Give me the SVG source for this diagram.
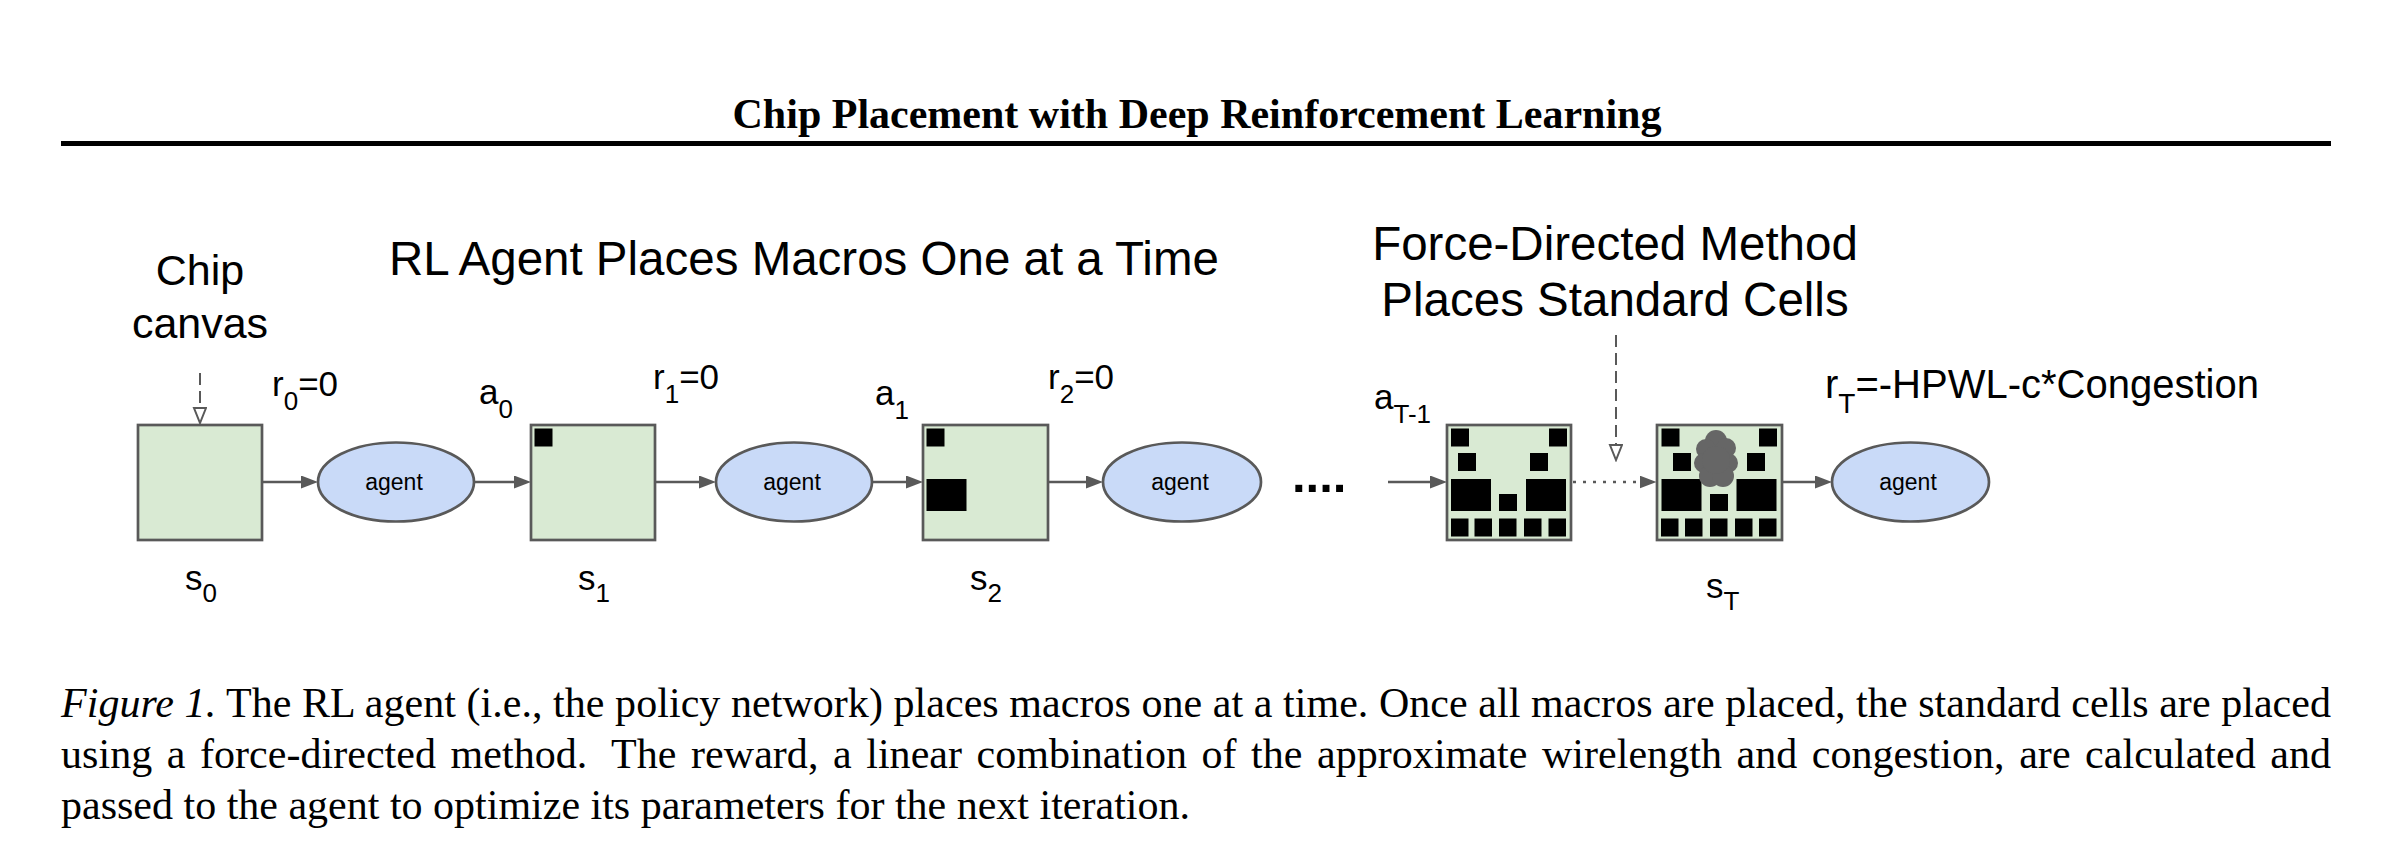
<svg xmlns="http://www.w3.org/2000/svg" width="2384" height="866" viewBox="0 0 2384 866">
<style>
.sans{font-family:"Liberation Sans",Arial,sans-serif;fill:#000}
.serif{font-family:"Liberation Serif","Times New Roman",serif;fill:#000}
.lbl{font-size:35px}
.sub{font-size:26px}
.head{font-size:47.5px}
.box{fill:#d9ead3;stroke:#595959;stroke-width:2.7}
.ell{fill:#c9daf8;stroke:#595959;stroke-width:2.7}
.ag{font-size:23px;text-anchor:middle}
.con{stroke:#595959;stroke-width:2.7;fill:none}
.dash{stroke-dasharray:12 6;stroke-width:2}
.dot{stroke-dasharray:3 7}
.cap{font-size:42px}
</style>
<defs>
<marker id="ah" markerUnits="userSpaceOnUse" markerWidth="18" markerHeight="14" viewBox="0 0 18 14" refX="0" refY="6.5" orient="auto"><path d="M0,0 L17,6.5 L0,13 z" fill="#595959"/></marker>
<marker id="oh" markerUnits="userSpaceOnUse" markerWidth="18" markerHeight="16" viewBox="-1 -1 18 16" refX="0" refY="6" orient="auto"><path d="M0,0 L15,6 L0,12 z" fill="#fff" stroke="#595959" stroke-width="2"/></marker>
</defs>
<rect width="2384" height="866" fill="#fff"/>

<g id="header">
<text class="serif" x="1197" y="128" font-size="42" font-weight="bold" text-anchor="middle">Chip Placement with Deep Reinforcement Learning</text>
<rect x="61" y="141" width="2270" height="5" fill="#000"/>
</g>

<g id="headings">
<text class="sans" x="200" y="285" font-size="43" text-anchor="middle">Chip</text>
<text class="sans" x="200" y="338" font-size="43" text-anchor="middle">canvas</text>
<text class="sans head" x="389" y="275">RL Agent Places Macros One at a Time</text>
<text class="sans head" x="1615" y="260" text-anchor="middle">Force-Directed Method</text>
<text class="sans head" x="1615" y="316" text-anchor="middle">Places Standard Cells</text>
</g>

<g id="connectors">
<line class="con dash" x1="200" y1="373" x2="200" y2="408" marker-end="url(#oh)"/>
<line class="con" x1="262" y1="482" x2="301" y2="482" marker-end="url(#ah)"/>
<line class="con" x1="474" y1="482" x2="514" y2="482" marker-end="url(#ah)"/>
<line class="con" x1="655" y1="482" x2="699" y2="482" marker-end="url(#ah)"/>
<line class="con" x1="872" y1="482" x2="906" y2="482" marker-end="url(#ah)"/>
<line class="con" x1="1048" y1="482" x2="1086" y2="482" marker-end="url(#ah)"/>
<line class="con" x1="1388" y1="482" x2="1430" y2="482" marker-end="url(#ah)"/>
<line class="con dot" x1="1573" y1="482" x2="1639.5" y2="482" marker-end="url(#ah)"/>
<line class="con dash" x1="1616" y1="335" x2="1616" y2="445" marker-end="url(#oh)"/>
<line class="con" x1="1782" y1="482" x2="1815" y2="482" marker-end="url(#ah)"/>
</g>

<g id="s0">
<rect class="box" x="138" y="425" width="124" height="115"/>
<text class="sans lbl" x="185" y="590">s<tspan class="sub" dy="12">0</tspan></text>
</g>

<g id="agent1">
<ellipse class="ell" cx="396" cy="482" rx="78" ry="39.5"/>
<text class="sans ag" x="394" y="490">agent</text>
</g>

<g id="s1">
<rect class="box" x="531" y="425" width="124" height="115"/>
<rect x="534.5" y="428.5" width="18" height="18" fill="#000"/>
<text class="sans lbl" x="578" y="590">s<tspan class="sub" dy="12">1</tspan></text>
</g>

<g id="agent2">
<ellipse class="ell" cx="794" cy="482" rx="78" ry="39.5"/>
<text class="sans ag" x="792" y="490">agent</text>
</g>

<g id="s2">
<rect class="box" x="923" y="425" width="125" height="115"/>
<rect x="926.5" y="428.5" width="18" height="18" fill="#000"/>
<rect x="926.5" y="479" width="40" height="32" fill="#000"/>
<text class="sans lbl" x="970" y="590">s<tspan class="sub" dy="12">2</tspan></text>
</g>

<g id="agent3">
<ellipse class="ell" cx="1182" cy="482" rx="79" ry="39.5"/>
<text class="sans ag" x="1180" y="490">agent</text>
</g>

<g id="ellipsis">
<text class="sans" x="1292" y="492" font-size="49" font-weight="bold">....</text>
</g>

<g id="sT-1">
<rect class="box" x="1447" y="425" width="124" height="115"/>
<g fill="#000">
<rect x="1451" y="428.5" width="18" height="18"/>
<rect x="1549" y="428.5" width="18" height="18"/>
<rect x="1458" y="453" width="18" height="18"/>
<rect x="1530" y="453" width="18" height="18"/>
<rect x="1451" y="479" width="40" height="32"/>
<rect x="1499" y="494" width="18" height="17"/>
<rect x="1526" y="479" width="40" height="32"/>
<rect x="1451" y="518.5" width="17.5" height="18"/>
<rect x="1474.5" y="518.5" width="17.5" height="18"/>
<rect x="1499" y="518.5" width="17.5" height="18"/>
<rect x="1524" y="518.5" width="17.5" height="18"/>
<rect x="1548.5" y="518.5" width="17.5" height="18"/>
</g>
</g>

<g id="sT">
<rect class="box" x="1657" y="425" width="125" height="115"/>
<g fill="#000">
<rect x="1661.5" y="428.5" width="18" height="18"/>
<rect x="1759" y="428.5" width="18" height="18"/>
<rect x="1673" y="453" width="18" height="18"/>
<rect x="1747" y="453" width="18" height="18"/>
<rect x="1661.5" y="479" width="40" height="32"/>
<rect x="1710" y="494" width="18" height="17"/>
<rect x="1736.5" y="479" width="40" height="32"/>
<rect x="1661" y="518.5" width="17.5" height="18"/>
<rect x="1685" y="518.5" width="17.5" height="18"/>
<rect x="1710" y="518.5" width="17.5" height="18"/>
<rect x="1735" y="518.5" width="17.5" height="18"/>
<rect x="1759" y="518.5" width="17.5" height="18"/>
</g>
<g fill="#666666">
<circle cx="1716" cy="441" r="11"/>
<circle cx="1706" cy="449" r="10"/>
<circle cx="1726" cy="448" r="10"/>
<circle cx="1704" cy="463" r="10"/>
<circle cx="1728" cy="463" r="10"/>
<circle cx="1710" cy="476" r="11"/>
<circle cx="1723" cy="476" r="11"/>
<circle cx="1716" cy="460" r="14"/>
</g>
<text class="sans lbl" x="1706" y="598">s<tspan class="sub" dy="12">T</tspan></text>
</g>

<g id="agent4">
<ellipse class="ell" cx="1910.5" cy="482" rx="78.5" ry="39.5"/>
<text class="sans ag" x="1908" y="490">agent</text>
</g>

<g id="labels">
<text class="sans lbl" x="272" y="396">r<tspan class="sub" dy="14">0</tspan><tspan dy="-14">=0</tspan></text>
<text class="sans lbl" x="479" y="404">a<tspan class="sub" dy="14">0</tspan></text>
<text class="sans lbl" x="653" y="389">r<tspan class="sub" dy="14">1</tspan><tspan dy="-14">=0</tspan></text>
<text class="sans lbl" x="875" y="405">a<tspan class="sub" dy="14">1</tspan></text>
<text class="sans lbl" x="1048" y="389">r<tspan class="sub" dy="14">2</tspan><tspan dy="-14">=0</tspan></text>
<text class="sans lbl" x="1374" y="409">a<tspan class="sub" dy="14">T-1</tspan></text>
<text class="sans" x="1825" y="398" font-size="40">r<tspan font-size="28" dy="15">T</tspan><tspan dy="-15">=-HPWL-c*Congestion</tspan></text>
</g>

<g id="caption">
<text class="serif cap" x="61" y="717" textLength="2270" lengthAdjust="spacing"><tspan font-style="italic">Figure 1.</tspan> The RL agent (i.e., the policy network) places macros one at a time. Once all macros are placed, the standard cells are placed</text>
<text class="serif cap" x="61" y="768" word-spacing="4" textLength="2270" lengthAdjust="spacing">using a force-directed method.<tspan dx="10"> The</tspan> reward, a linear combination of the approximate wirelength and congestion, are calculated and</text>
<text class="serif cap" x="61" y="819">passed to the agent to optimize its parameters for the next iteration.</text>
</g>
</svg>
